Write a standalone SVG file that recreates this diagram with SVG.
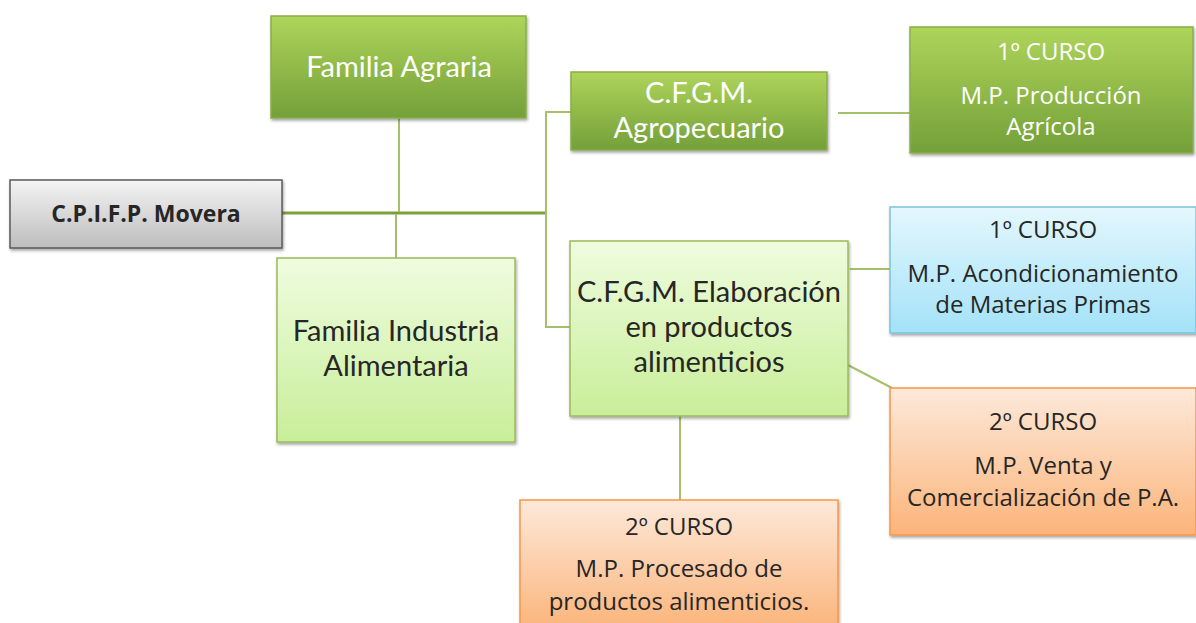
<svg xmlns="http://www.w3.org/2000/svg" width="1196" height="623" viewBox="0 0 1196 623">
<defs>
<linearGradient id="gDark" x1="0" y1="0" x2="0" y2="1"><stop offset="0" stop-color="#aed45a"/><stop offset="1" stop-color="#74a039"/></linearGradient>
<linearGradient id="gLight" x1="0" y1="0" x2="0" y2="1"><stop offset="0" stop-color="#effcdf"/><stop offset="1" stop-color="#c8ee99"/></linearGradient>
<linearGradient id="gGray" x1="0" y1="0" x2="0" y2="1"><stop offset="0" stop-color="#f4f4f4"/><stop offset="1" stop-color="#bdbdbd"/></linearGradient>
<linearGradient id="gBlue" x1="0" y1="0" x2="0" y2="1"><stop offset="0" stop-color="#e4f7fd"/><stop offset="1" stop-color="#a3e2f8"/></linearGradient>
<linearGradient id="gOrange" x1="0" y1="0" x2="0" y2="1"><stop offset="0" stop-color="#fde9da"/><stop offset="1" stop-color="#fbb47a"/></linearGradient>
<filter id="sh" x="-10%" y="-10%" width="120%" height="130%"><feDropShadow dx="1" dy="2" stdDeviation="1.5" flood-color="#000" flood-opacity="0.35"/></filter>
</defs>
<style>
text{font-family:"Open Sans","Noto Sans","DejaVu Sans",sans-serif;text-anchor:middle}
.w{fill:#ffffff}
.d{fill:#262626}
.L{font-family:Lato,"Open Sans",sans-serif;font-size:29px}
.M{font-size:24px}
.dk{fill:url(#gDark);stroke:#8aae4a;stroke-width:1.5}
.lt{fill:url(#gLight);stroke:#9bbb59;stroke-width:1.5}
.c{fill:none;stroke:#a3c16a;stroke-width:2}
</style>
<rect width="1196" height="623" fill="#ffffff"/>
<g id="connectors">
<line x1="282" y1="213" x2="547" y2="213" stroke="#7f9f3f" stroke-width="3"/>
<line class="c" x1="399" y1="118" x2="399" y2="212"/>
<line class="c" x1="396" y1="214" x2="396" y2="258"/>
<polyline class="c" points="571,112 546,112 546,327 570,327"/>
<line class="c" x1="838" y1="113" x2="910" y2="113"/>
<line class="c" x1="850" y1="269" x2="890" y2="269"/>
<line class="c" x1="846" y1="364" x2="892" y2="388"/>
<line class="c" x1="680" y1="416" x2="680" y2="500"/>
</g>
<g id="movera">
<rect x="10" y="180" width="272" height="68" fill="url(#gGray)" stroke="#5a5a5a" stroke-width="1.5" filter="url(#sh)"/>
<text class="d" x="146" y="222" font-weight="bold" font-size="23">C.P.I.F.P. Movera</text>
</g>
<g id="familia-agraria">
<rect class="dk" x="271" y="16" width="255" height="102" filter="url(#sh)"/>
<text class="w L" x="399" y="77">Familia Agraria</text>
</g>
<g id="cfgm-agropecuario">
<rect class="dk" x="571" y="72" width="256" height="78" filter="url(#sh)"/>
<text class="w L" x="699" y="103">C.F.G.M.</text>
<text class="w L" x="699" y="138">Agropecuario</text>
</g>
<g id="produccion-agricola">
<rect class="dk" x="910" y="27" width="283" height="126" filter="url(#sh)"/>
<text class="w M" x="1051" y="60">1º CURSO</text>
<text class="w M" x="1051" y="104">M.P. Producción</text>
<text class="w M" x="1051" y="135">Agrícola</text>
</g>
<g id="familia-industria">
<rect class="lt" x="277" y="258" width="238" height="184" filter="url(#sh)"/>
<text class="d L" x="396" y="341">Familia Industria</text>
<text class="d L" x="396" y="376">Alimentaria</text>
</g>
<g id="cfgm-elaboracion">
<rect class="lt" x="570" y="241" width="278" height="175" filter="url(#sh)"/>
<text class="d L" x="709" y="302">C.F.G.M. Elaboración</text>
<text class="d L" x="709" y="337">en productos</text>
<text class="d L" x="709" y="372">alimenticios</text>
</g>
<g id="acondicionamiento">
<rect x="890" y="207" width="306" height="126" fill="url(#gBlue)" stroke="#7cc3dd" stroke-width="1.5" filter="url(#sh)"/>
<text class="d M" x="1043" y="238">1º CURSO</text>
<text class="d M" x="1043" y="282">M.P. Acondicionamiento</text>
<text class="d M" x="1043" y="313">de Materias Primas</text>
</g>
<g id="venta">
<rect x="890" y="388" width="306" height="147" fill="url(#gOrange)" stroke="#f79646" stroke-width="1.5" filter="url(#sh)"/>
<text class="d M" x="1043" y="430">2º CURSO</text>
<text class="d M" x="1043" y="474">M.P. Venta y</text>
<text class="d M" x="1043" y="506">Comercialización de P.A.</text>
</g>
<g id="procesado">
<rect x="520" y="500" width="318" height="130" fill="url(#gOrange)" stroke="#f79646" stroke-width="1.5" filter="url(#sh)"/>
<text class="d M" x="679" y="535">2º CURSO</text>
<text class="d M" x="679" y="577">M.P. Procesado de</text>
<text class="d M" x="679" y="610">productos alimenticios.</text>
</g>
</svg>
